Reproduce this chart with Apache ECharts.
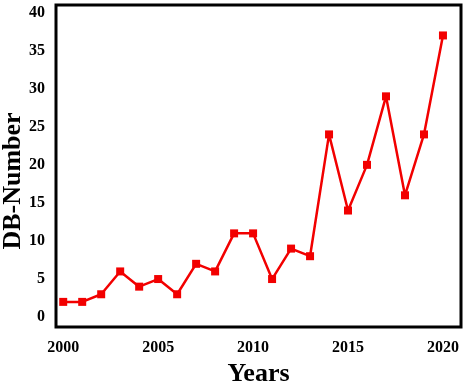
<!DOCTYPE html>
<html><head><meta charset="utf-8">
<script src="https://cdn.jsdelivr.net/npm/echarts@6/dist/echarts.min.js"></script>
<style>html,body{margin:0;padding:0;background:#fff}#c{width:474px;height:387px}</style>
</head><body><div id="c"></div>
<script>
const years = [2000,2001,2002,2003,2004,2005,2006,2007,2008,2009,2010,2011,2012,2013,2014,2015,2016,2017,2018,2019,2020];
const dbNumber = [2,2,3,6,4,5,3,7,6,11,11,5,9,8,24,14,20,29,16,24,37];
const xTicks = [2000,2005,2010,2015,2020];
const yTicks = [0,5,10,15,20,25,30,35,40];
const yName = 'DB-Number';
const font = '"Liberation Serif","Times New Roman",serif';
const chart = echarts.init(document.getElementById('c'));
chart.setOption({
  animation:false,
  grid:{left:56,top:5,right:13,bottom:60,show:true,borderColor:'#000',borderWidth:3,backgroundColor:'transparent',outerBoundsMode:'none',containLabel:false},
  graphic:[{type:'text',x:13,y:181,rotation:Math.PI/2,
    style:{text:yName,align:'center',verticalAlign:'middle',fontFamily:font,fontWeight:'bold',fontSize:26,fill:'#000'}}],
  xAxis:{type:'value',min:1999.62,max:2020.95,
    name:'Years',nameLocation:'middle',nameGap:33,
    nameTextStyle:{fontFamily:font,fontWeight:'bold',fontSize:26,color:'#000'},
    axisLine:{show:false},axisTick:{show:false},splitLine:{show:false},
    axisLabel:{customValues:xTicks,fontFamily:font,fontWeight:'bold',fontSize:16,color:'#000',margin:13,formatter:v=>String(v)}},
  yAxis:{type:'value',min:-1.3,max:41,
    axisLine:{show:false},axisTick:{show:false},splitLine:{show:false},
    axisLabel:{customValues:yTicks,fontFamily:font,fontWeight:'bold',fontSize:16,color:'#000',margin:11,formatter:v=>String(v)}},
  series:[{type:'line',data:years.map((y,i)=>[y,dbNumber[i]]),
    symbol:'rect',symbolSize:8,
    lineStyle:{color:'#f20000',width:2.5},
    itemStyle:{color:'#f20000'}}]
});
</script></body></html>
